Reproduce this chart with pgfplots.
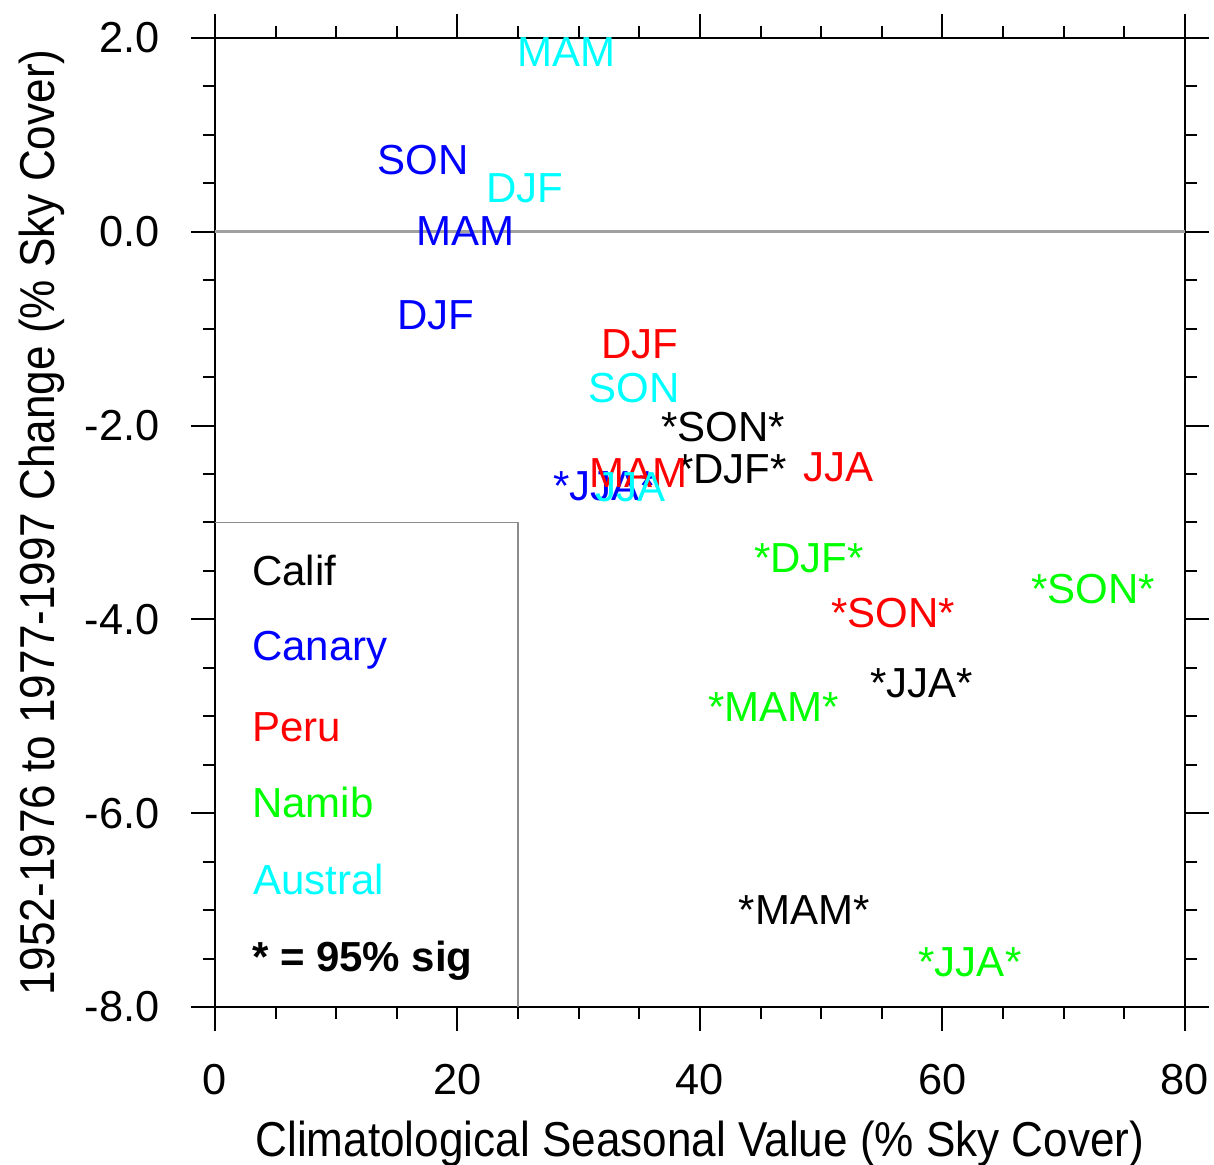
\documentclass[border=0pt]{standalone}
\usepackage{fontspec}
\setmainfont{Liberation Sans}
\usepackage{graphicx}
\usepackage{pgfplots}
\pgfplotsset{compat=1.18}
\usepackage{pgfplotstable}

\definecolor{ncBlue}{RGB}{0,0,255}
\definecolor{ncRed}{RGB}{255,0,0}
\definecolor{ncGreen}{RGB}{0,255,0}
\definecolor{ncCyan}{RGB}{0,255,255}
\definecolor{zeroGrey}{RGB}{160,160,160}
\definecolor{boxGrey}{RGB}{140,140,140}

% x = climatological value, y = change, lab = season (* = 95% sig)
\pgfplotstableread{
x y lab
41.90 -2.02 *SON*
42.64 -2.45 *DJF*
58.31 -4.66 *JJA*
48.58 -7.00 *MAM*
}\califdata
\pgfplotstableread{
x y lab
17.15 0.74 SON
20.70 0.01 MAM
18.23 -0.86 DJF
32.16 -2.63 *JJA*
}\canarydata
\pgfplotstableread{
x y lab
35.05 -1.16 DJF
34.89 -2.49 MAM
51.46 -2.43 JJA
55.92 -3.93 *SON*
}\perudata
\pgfplotstableread{
x y lab
48.99 -3.37 *DJF*
72.41 -3.69 *SON*
46.10 -4.90 *MAM*
62.27 -7.54 *JJA*
}\namibdata
\pgfplotstableread{
x y lab
28.95 1.85 MAM
25.57 0.45 DJF
34.56 -1.61 SON
34.31 -2.64 JJA
}\australdata

\newcommand{\lblfont}{\fontsize{12.6}{15}\selectfont}

\pgfplotsset{
  lbl/.style={only marks, mark=none, point meta=explicit symbolic,
    nodes near coords, nodes near coords align={center},
    every node near coord/.append style={text=#1, font=\lblfont, inner sep=0pt, anchor=center}},
}

\begin{document}
\begin{tikzpicture}
\begin{axis}[
  at={(0,0)}, anchor=south west,
  scale only axis, width=291pt, height=290.7pt,
  xmin=0, xmax=80, ymin=-8, ymax=2,
  xtick={0,20,40,60,80}, ytick={-8,-6,-4,-2,0,2},
  minor xtick={5,10,15,25,30,35,45,50,55,65,70,75},
  minor ytick={-7.5,-7,-6.5,-5.5,-5,-4.5,-3.5,-3,-2.5,-1.5,-1,-0.5,0.5,1,1.5},
  tick align=outside,
  major tick length=7.2pt, minor tick length=3.6pt,
  axis line style={black, line width=0.6pt},
  every tick/.style={black, line width=0.6pt},
  /pgf/number format/assume math mode=true,
  yticklabel style={/pgf/number format/.cd, fixed, fixed zerofill, precision=1, /tikz/.cd,
    font=\fontsize{13}{15}\selectfont, anchor=east, inner sep=0pt, xshift=-9.3pt},
  xticklabel style={font=\fontsize{13}{15}\selectfont, anchor=north, inner sep=0pt, yshift=-9.9pt},
  xlabel={\scalebox{0.9}[1]{Climatological Seasonal Value (\% Sky Cover)}},
  ylabel={\scalebox{0.9}[1]{1952-1976 to 1977-1997 Change (\% Sky Cover)}},
  xlabel style={font=\fontsize{14.7}{17}\selectfont, at={(axis description cs:0.5,0)}, anchor=base, inner sep=0pt, yshift=-45pt},
  ylabel style={font=\fontsize{14.7}{17}\selectfont, at={(axis description cs:0,0.5)}, anchor=base, inner sep=0pt, yshift=48pt},
  clip=false,
]
\addplot[zeroGrey, line width=0.8pt] coordinates {(0,0) (80,0)};
\addplot[boxGrey, line width=0.5pt] coordinates {(0,-3) (25,-3) (25,-8)};

\addplot[lbl=black] table[x=x, y=y, meta=lab] {\califdata};
\addplot[lbl=ncBlue] table[x=x, y=y, meta=lab] {\canarydata};
\addplot[lbl=ncRed] table[x=x, y=y, meta=lab] {\perudata};
\addplot[lbl=ncGreen] table[x=x, y=y, meta=lab] {\namibdata};
\addplot[lbl=ncCyan] table[x=x, y=y, meta=lab] {\australdata};

\node[anchor=base west, inner sep=0pt, font=\lblfont, text=black] at (axis cs:3.0,-3.655) {Calif};
\node[anchor=base west, inner sep=0pt, font=\lblfont, text=ncBlue] at (axis cs:3.0,-4.42) {Canary};
\node[anchor=base west, inner sep=0pt, font=\lblfont, text=ncRed] at (axis cs:3.0,-5.265) {Peru};
\node[anchor=base west, inner sep=0pt, font=\lblfont, text=ncGreen] at (axis cs:3.0,-6.04) {Namib};
\node[anchor=base west, inner sep=0pt, font=\lblfont, text=ncCyan] at (axis cs:3.1,-6.84) {Austral};
\node[anchor=base west, inner sep=0pt, font=\lblfont\bfseries, text=black] at (axis cs:3.0,-7.63) {* = 95\% sig};
\end{axis}
\pgfresetboundingbox
\path (-64.5pt,-47.4pt) rectangle (299.7pt,302.1pt);
\end{tikzpicture}
\end{document}
